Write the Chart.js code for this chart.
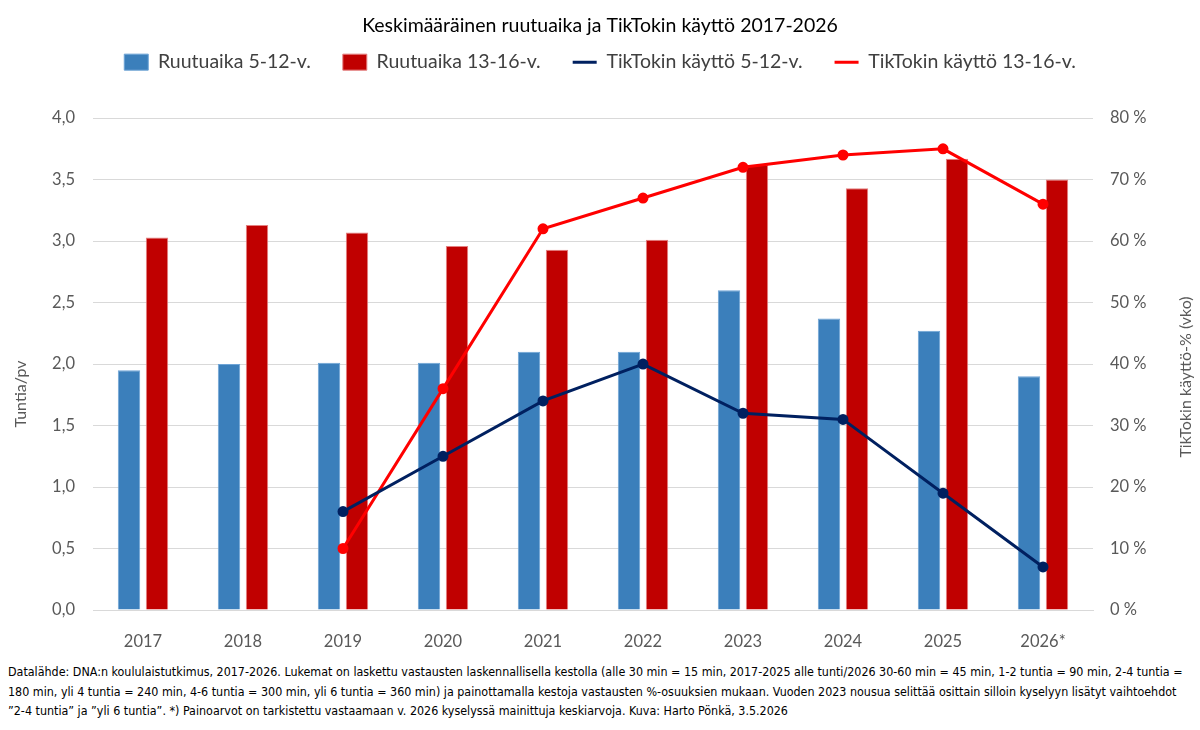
<!DOCTYPE html>
<html>
<head>
<meta charset="utf-8">
<title>Ruutuaika ja TikTok</title>
<script src="https://cdn.jsdelivr.net/npm/chart.js@4.4.1/dist/chart.umd.min.js"></script>
<style>
  body { margin: 0; background: #fff; }
  #wrap { position: relative; width: 1200px; height: 655px; }
  #note {
    position: absolute; left: 8px; top: 662px; width: 1190px;
    font-family: "Liberation Sans Narrow", "DejaVu Sans Condensed", "Arial Narrow", sans-serif;
    font-size: 12.4px; line-height: 19.5px; color: #000; white-space: nowrap;
  }
</style>
</head>
<body>
<div id="wrap"><canvas id="myChart" width="1200" height="655"></canvas></div>
<div id="note">
  <div>Datalähde: DNA:n koululaistutkimus, 2017-2026. Lukemat on laskettu vastausten laskennallisella kestolla (alle 30 min = 15 min, 2017-2025 alle tunti/2026 30-60 min = 45 min, 1-2 tuntia = 90 min, 2-4 tuntia =</div>
  <div>180 min, yli 4 tuntia = 240 min, 4-6 tuntia = 300 min, yli 6 tuntia = 360 min) ja painottamalla kestoja vastausten %-osuuksien mukaan. Vuoden 2023 nousua selittää osittain silloin kyselyyn lisätyt vaihtoehdot</div>
  <div>”2-4 tuntia” ja ”yli 6 tuntia”. *) Painoarvot on tarkistettu vastaamaan v. 2026 kyselyssä mainittuja keskiarvoja. Kuva: Harto Pönkä, 3.5.2026</div>
</div>
<script>
// data
const years = ['2017', '2018', '2019', '2020', '2021', '2022', '2023', '2024', '2025', '2026*'];
const screenYoung = [1.95, 2.00, 2.01, 2.01, 2.10, 2.10, 2.60, 2.37, 2.27, 1.90];   // Ruutuaika 5-12-v. (h/pv)
const screenTeen = [3.03, 3.13, 3.07, 2.96, 2.93, 3.01, 3.62, 3.43, 3.67, 3.50];    // Ruutuaika 13-16-v.
const tiktokYoung = [null, null, 16, 25, 34, 40, 32, 31, 19, 7];                    // TikTok 5-12-v. (%)
const tiktokTeen = [null, null, 10, 36, 62, 67, 72, 74, 75, 66];                    // TikTok 13-16-v.

const seriesNames = ['Ruutuaika 5-12-v.', 'Ruutuaika 13-16-v.', 'TikTokin käyttö 5-12-v.', 'TikTokin käyttö 13-16-v.'];
const leftTitle = 'Tuntia/pv';
const rightTitle = 'TikTokin käyttö-% (vko)';

const FONT = 'Lato, "Open Sans", sans-serif';
const GREY = '#595959';

// axis titles drawn by hand so they sit where Excel put them
const axisTitles = {
  id: 'axisTitles',
  afterDraw(chart) {
    const ctx = chart.ctx;
    [[leftTitle, 21, 394], [rightTitle, 1186, 377]].forEach(([txt, x, y]) => {
      ctx.save();
      ctx.fillStyle = GREY;
      ctx.font = '16px ' + FONT;
      ctx.textAlign = 'center';
      ctx.textBaseline = 'middle';
      ctx.translate(x, y);
      ctx.rotate(-Math.PI / 2);
      ctx.fillText(txt, 0, 0);
      ctx.restore();
    });
  }
};

function initChart(target) {
  const chart = new Chart(target, {
    data: {
      labels: years,
      datasets: [
        {
          type: 'bar', label: seriesNames[0], data: screenYoung, yAxisID: 'y', order: 1,
          backgroundColor: '#3B7FBB', borderColor: '#6EA4D6', borderWidth: 1,
          barPercentage: 0.8, categoryPercentage: 0.56
        },
        {
          type: 'bar', label: seriesNames[1], data: screenTeen, yAxisID: 'y', order: 1,
          backgroundColor: '#C00000', borderColor: '#E58080', borderWidth: 1,
          barPercentage: 0.8, categoryPercentage: 0.56
        },
        {
          type: 'line', label: seriesNames[2], data: tiktokYoung, yAxisID: 'y1', order: 0,
          borderColor: '#002060', backgroundColor: '#002060', borderWidth: 3,
          pointRadius: 4, pointHoverRadius: 4, pointStyle: 'circle', tension: 0
        },
        {
          type: 'line', label: seriesNames[3], data: tiktokTeen, yAxisID: 'y1', order: 0,
          borderColor: '#FF0000', backgroundColor: '#FF0000', borderWidth: 3,
          pointRadius: 4, pointHoverRadius: 4, pointStyle: 'circle', tension: 0
        }
      ]
    },
    options: {
      responsive: false,
      animation: false,
      layout: { padding: 0 },
      plugins: {
        title: {
          display: true,
          text: 'Keskimääräinen ruutuaika ja TikTokin käyttö 2017-2026',
          color: '#000',
          font: { family: FONT, size: 19.5, weight: 'normal' },
          padding: { top: 14, bottom: -17 }
        },
        subtitle: {
          // empty spacer between legend and plot
          display: true, text: ' ', weight: 500,
          font: { size: 1 }, padding: { top: 0, bottom: 35 }
        },
        legend: {
          labels: {
            usePointStyle: true,
            pointStyleWidth: 24,
            boxHeight: 16,
            padding: 32,
            color: '#404040',
            font: { family: FONT, size: 19.5 },
            sort: (a, b) => a.datasetIndex - b.datasetIndex,
            generateLabels: (chart) => {
              const items = Chart.defaults.plugins.legend.labels.generateLabels(chart);
              items.forEach((it) => {
                it.pointStyle = chart.data.datasets[it.datasetIndex].type === 'line' ? 'line' : 'rect';
              });
              return items;
            }
          }
        },
        tooltip: { enabled: false }
      },
      scales: {
        x: {
          afterFit: (s) => { s.height = 45; },
          grid: { display: false },
          border: { display: true, color: '#D9D9D9' },
          ticks: { color: GREY, font: { family: FONT, size: 16.5 }, padding: 14 }
        },
        y: {
          position: 'left',
          min: 0, max: 4,
          afterFit: (s) => { s.width = 93; },
          grid: { color: '#D9D9D9', drawTicks: false },
          border: { display: false },
          ticks: {
            stepSize: 0.5, padding: 18, color: GREY,
            font: { family: FONT, size: 16.5 },
            callback: (v) => v.toFixed(1).replace('.', ',')
          }
        },
        y1: {
          position: 'right',
          min: 0, max: 80,
          afterFit: (s) => { s.width = 107; },
          grid: { drawOnChartArea: false, drawTicks: false },
          border: { display: false },
          ticks: {
            stepSize: 10, padding: 17, color: GREY,
            font: { family: FONT, size: 16.5 },
            callback: (v) => v + ' %'
          }
        }
      }
    },
    plugins: [axisTitles]
  });
  return chart;
}

document.addEventListener('DOMContentLoaded', () => {
  const newChart = initChart(document.querySelector('#myChart'));
  console.log(newChart.chartArea);
});
</script>
</body>
</html>
